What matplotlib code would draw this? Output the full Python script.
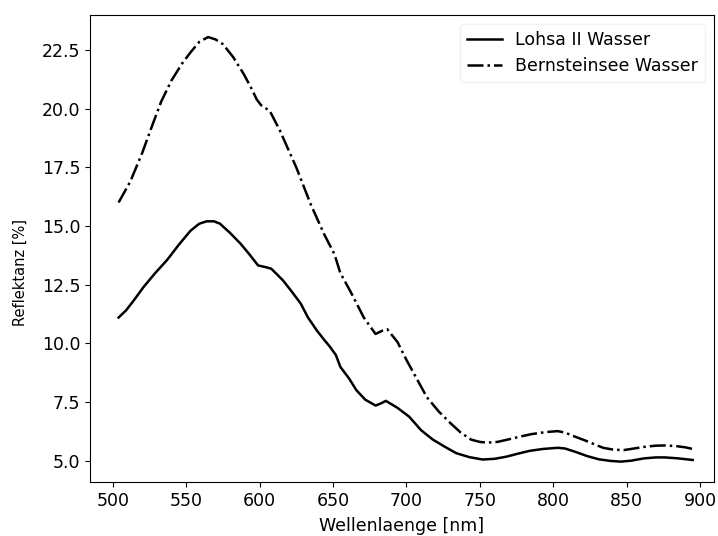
import matplotlib
matplotlib.use('Agg')
import matplotlib.pyplot as plt

matplotlib.rcParams['font.size'] = 12.5

# Bernsteinsee Wasser (dash-dot)
wl_bern = [504, 512, 520, 527, 533, 540, 547, 553, 559, 565, 570, 575, 582, 589,
           595, 598, 601, 607, 614, 620, 625, 630, 635, 644, 651, 655, 662, 671,
           679, 684, 687, 694, 700, 707, 714, 722, 730, 737, 744, 750, 755, 762,
           769, 777, 785, 795, 803, 808, 815, 821, 828, 834, 841, 848, 855, 862,
           870, 876, 884, 890, 895]
refl_bern = [16.0, 16.9, 18.1, 19.3, 20.3, 21.2, 21.9, 22.4, 22.85, 23.05, 22.95,
             22.75, 22.2, 21.5, 20.8, 20.4, 20.15, 19.9, 19.05, 18.2, 17.5, 16.7,
             15.9, 14.65, 13.8, 13.0, 12.2, 11.1, 10.4, 10.55, 10.6, 10.05, 9.3,
             8.5, 7.7, 7.1, 6.6, 6.2, 5.9, 5.8, 5.77, 5.8, 5.9, 6.02, 6.13, 6.22,
             6.26, 6.2, 6.02, 5.88, 5.7, 5.55, 5.47, 5.45, 5.52, 5.59, 5.64, 5.65,
             5.62, 5.57, 5.5]

# Lohsa II Wasser (solid)
wl_lohsa = [504, 509, 514, 521, 529, 537, 545, 553, 559, 564, 569, 573, 580, 587,
            593, 599, 604, 608, 616, 622, 628, 633, 639, 644, 648, 652, 655, 661,
            666, 672, 679, 683, 686, 690, 694, 702, 710, 718, 726, 734, 743, 752,
            760, 768, 776, 784, 793, 803, 808, 815, 823, 831, 839, 846, 853, 862,
            870, 876, 885, 895]
refl_lohsa = [11.1, 11.4, 11.8, 12.4, 13.0, 13.55, 14.2, 14.8, 15.1, 15.2, 15.2,
              15.1, 14.7, 14.25, 13.8, 13.32, 13.25, 13.18, 12.68, 12.2, 11.7,
              11.1, 10.55, 10.15, 9.85, 9.5, 9.0, 8.5, 8.0, 7.6, 7.35, 7.45, 7.55,
              7.4, 7.25, 6.87, 6.3, 5.9, 5.6, 5.32, 5.15, 5.05, 5.08, 5.17, 5.3,
              5.42, 5.5, 5.55, 5.52, 5.38, 5.2, 5.06, 4.99, 4.96, 5.0, 5.1, 5.14,
              5.14, 5.1, 5.03]

fig = plt.figure(figsize=(7.18, 5.36), dpi=100)
ax = fig.add_axes([0.1253, 0.1002, 0.8691, 0.8718])

ax.plot(wl_lohsa, refl_lohsa, color='k', ls='-', lw=1.8, label='Lohsa II Wasser')
ax.plot(wl_bern, refl_bern, color='k', ls='-.', lw=1.8, label='Bernsteinsee Wasser')

ax.set_xlim(484.5, 909.5)
ax.set_ylim(4.08, 23.99)
ax.set_xticks([500, 550, 600, 650, 700, 750, 800, 850, 900])
ax.set_yticks([5.0, 7.5, 10.0, 12.5, 15.0, 17.5, 20.0, 22.5])
ax.set_xlabel('Wellenlaenge [nm]', labelpad=5)
ax.set_ylabel('Reflektanz [%]', fontsize=10.5)
ax.yaxis.set_label_coords(-0.100, 0.45)
leg = ax.legend(loc='upper right', edgecolor='0.95', framealpha=1.0)

plt.savefig('out.png', dpi=100)
